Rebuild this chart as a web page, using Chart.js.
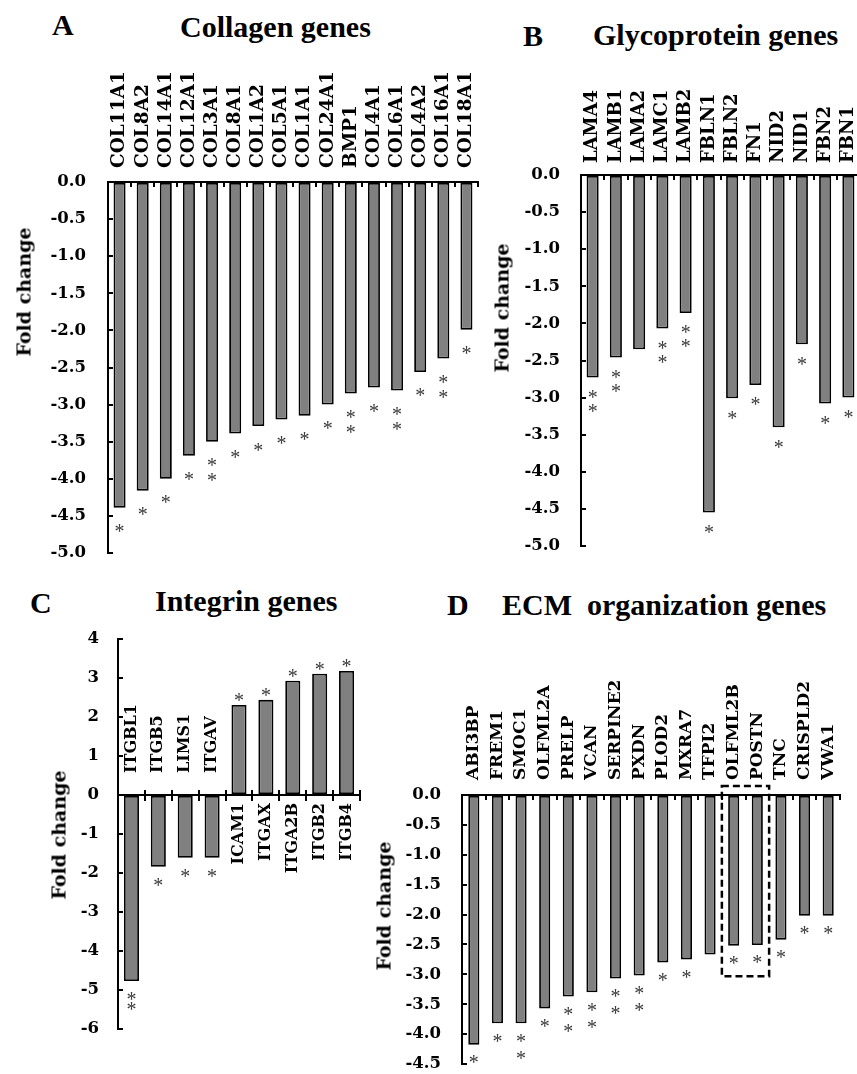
<!DOCTYPE html>
<html><head><meta charset="utf-8">
<script src="https://cdn.jsdelivr.net/npm/chart.js@4.4.1/dist/chart.umd.min.js"></script>
<style>
html,body{margin:0;padding:0;background:#fff;overflow:hidden;width:857px;height:1074px;}
.hd{position:absolute;font-family:'Liberation Serif','Times New Roman',serif;font-weight:bold;font-size:30px;line-height:30px;white-space:pre;color:#000;}
.yt{position:absolute;font-family:'DejaVu Serif',serif;font-weight:bold;font-size:19px;line-height:1;white-space:nowrap;transform:translate(-50%,-50%) rotate(-90deg);color:#000;}
.wrap{position:absolute;overflow:hidden;}
canvas{position:absolute;left:0;top:0;}
</style></head><body>

<div class="hd" style="left:52px;top:10px;">A</div>
<div class="hd" style="left:180px;top:12px;">Collagen genes</div>
<div class="hd" style="left:523px;top:21px;">B</div>
<div class="hd" style="left:593px;top:20px;">Glycoprotein genes</div>
<div class="hd" style="left:30px;top:588px;">C</div>
<div class="hd" style="left:155px;top:586px;">Integrin genes</div>
<div class="hd" style="left:447px;top:590px;">D</div>
<div class="hd" style="left:502px;top:590px;">ECM  organization genes</div>

<div class="wrap" style="left:0;top:50px;width:490px;height:520px;"><canvas id="cA" width="490" height="520"></canvas></div>
<div class="wrap" style="left:480px;top:50px;width:377px;height:520px;"><canvas id="cB" width="400" height="520"></canvas></div>
<div class="wrap" style="left:0;top:620px;width:380px;height:440px;"><canvas id="cC" width="380" height="440"></canvas></div>
<div class="wrap" style="left:370px;top:620px;width:487px;height:454px;"><canvas id="cD" width="487" height="454"></canvas></div>

<div class="yt" style="left:24px;top:292px;">Fold change</div>
<div class="yt" style="left:502px;top:308px;">Fold change</div>
<div class="yt" style="left:59px;top:835px;">Fold change</div>
<div class="yt" style="left:384px;top:906px;">Fold change</div>

<script>
// ---------- DATA ----------
const catA = ['COL11A1','COL8A2','COL14A1','COL12A1','COL3A1','COL8A1','COL1A2','COL5A1','COL1A1','COL24A1','BMP1','COL4A1','COL6A1','COL4A2','COL16A1','COL18A1'];
const valA = [-4.39,-4.16,-4.00,-3.69,-3.50,-3.39,-3.29,-3.20,-3.15,-3.00,-2.85,-2.77,-2.81,-2.56,-2.38,-1.99];
const sigA = ['*','*','*','*','**','*','*','*','*','*','**','*','**','*','**','*'];

const catB = ['LAMA4','LAMB1','LAMA2','LAMC1','LAMB2','FBLN1','FBLN2','FN1','NID2','NID1','FBN2','FBN1'];
const valB = [-2.73,-2.46,-2.35,-2.07,-1.86,-4.55,-3.01,-2.83,-3.40,-2.28,-3.08,-3.00];
const sigB = ['**','**','','**','**','*','*','*','*','*','*','*'];

const catC = ['ITGBL1','ITGB5','LIMS1','ITGAV','ICAM1','ITGAX','ITGA2B','ITGB2','ITGB4'];
const valC = [-4.77,-1.84,-1.61,-1.61,2.31,2.44,2.93,3.11,3.18];
const sigC = ['**','*','*','*','*','*','*','*','*'];

const catD = ['ABI3BP','FREM1','SMOC1','OLFML2A','PRELP','VCAN','SERPINE2','PXDN','PLOD2','MXRA7','TFPI2','OLFML2B','POSTN','TNC','CRISPLD2','VWA1'];
const valD = [-4.18,-3.82,-3.82,-3.57,-3.37,-3.30,-3.07,-3.02,-2.80,-2.75,-2.67,-2.52,-2.51,-2.42,-2.02,-2.02];
const sigD = ['*','*','**','*','**','**','**','**','*','*','','*','*','*','*','*'];

const yRangeA = [-5, 0], yStepA = 0.5;
const yRangeB = [-5, 0], yStepB = 0.5;
const yRangeC = [-6, 4], yStepC = 1;
const yRangeD = [-4.5, 0], yStepD = 0.5;
const boxedD = ['OLFML2B','POSTN'];
const boxRangeD = [-3.03, 0.15];

// ---------- STYLE HELPERS ----------
const tickFont = {family:'DejaVu Serif', weight:'bold', size:16.5, lineHeight:1};

function barSet(vals, pct){
  return {data: vals, backgroundColor:'#808080', borderColor:'#000', borderWidth:1.8,
          borderSkipped:false, categoryPercentage:1, barPercentage:pct};
}
function yAxis(range, step, width, pad, dec){
  return {min:range[0], max:range[1],
    ticks:{stepSize:step, padding:pad, color:'#000', font:tickFont, callback:v=>Number(v).toFixed(dec)},
    grid:{drawOnChartArea:false, drawTicks:true, tickLength:-5, color:'#000', lineWidth:2},
    border:{display:true, color:'#000', width:2},
    afterFit(s){ s.width = width; s.paddingTop = 6; s.paddingBottom = 6; }};
}
function xTop(height){
  return {position:'top', offset:true,
    grid:{offset:true, drawOnChartArea:false, drawTicks:true, tickLength:-5, color:'#000', lineWidth:2},
    border:{display:true, color:'#000', width:2},
    ticks:{display:false},
    afterFit(s){ s.height = height; s.paddingLeft = 0; s.paddingRight = 0; }};
}
function labelPlugin(cats, vals, negGap, posGap, size){
  return {id:'catLabels', afterDraw(chart){
    const ctx = chart.ctx, xs = chart.scales.x, ys = chart.scales.y;
    const y0 = ys.getPixelForValue(0);
    ctx.save();
    ctx.font = 'bold ' + size + 'px "DejaVu Serif"';
    ctx.fillStyle = '#000';
    ctx.textBaseline = 'middle';
    cats.forEach((lab, i) => {
      const neg = vals[i] < 0;
      ctx.save();
      ctx.translate(xs.getPixelForValue(i), neg ? y0 - negGap : y0 + posGap);
      ctx.rotate(-Math.PI/2);
      ctx.textAlign = neg ? 'left' : 'right';
      ctx.fillText(lab, 0, 0);
      ctx.restore();
    });
    ctx.restore();
  }};
}
function starPlugin(sig, first, gap, posFirst){
  return {id:'stars', afterDatasetsDraw(chart){
    const ctx = chart.ctx, meta = chart.getDatasetMeta(0), data = chart.data.datasets[0].data;
    const fs = 20;
    ctx.save();
    ctx.fillStyle = '#3a3a3a';
    ctx.font = fs + 'px "Liberation Serif"';
    ctx.textAlign = 'center';
    ctx.textBaseline = 'alphabetic';
    meta.data.forEach((bar, i) => {
      const n = sig[i].length, neg = data[i] < 0;
      for (let k = 0; k < n; k++){
        const cy = neg ? bar.y + first + k*gap : bar.y - posFirst - k*gap;
        ctx.fillText('*', bar.x, cy + 0.47*fs);
      }
    });
    ctx.restore();
  }};
}
const common = (padding) => ({responsive:false, animation:false,
  layout:{padding}, plugins:{legend:{display:false}, tooltip:{enabled:false}, title:{display:false}}});

// ---------- A ----------
new Chart(document.getElementById('cA'), {
  type:'bar',
  data:{labels:catA, datasets:[barSet(valA, 0.52)]},
  options:Object.assign(common({left:0, top:0, right:12, bottom:17}), {
    scales:{x:xTop(132), y:yAxis(yRangeA, yStepA, 108, 27, 1)}}),
  plugins:[starPlugin(sigA, 21, 15, 7), labelPlugin(catA, valA, 14, 8, 18.5)]
});

// ---------- B ----------
new Chart(document.getElementById('cB'), {
  type:'bar',
  data:{labels:catB, datasets:[barSet(valB, 0.52)]},
  options:Object.assign(common({left:0, top:0, right:20, bottom:24}), {
    scales:{x:xTop(125), y:yAxis(yRangeB, yStepB, 101, 26, 1)}}),
  plugins:[starPlugin(sigB, 17, 14, 7), labelPlugin(catB, valB, 12, 8, 18)]
});

// ---------- C ----------
new Chart(document.getElementById('cC'), {
  type:'bar',
  data:{labels:catC, datasets:[barSet(valC, 0.56)]},
  options:Object.assign(common({left:0, top:19, right:20, bottom:31}), {
    scales:{
      x:{type:'category', position:{y:0}, offset:true,
         grid:{offset:true, drawOnChartArea:false, drawTicks:true, tickLength:5, color:'#000', lineWidth:2},
         border:{display:true, color:'#000', width:2}, ticks:{display:false},
         afterFit(s){ s.paddingLeft = 0; s.paddingRight = 0; }},
      x2:{type:'category', labels:catC, position:{y:0}, offset:true,
         grid:{offset:true, drawOnChartArea:false, drawTicks:true, tickLength:-5, color:'#000', lineWidth:2},
         border:{display:false}, ticks:{display:false},
         afterFit(s){ s.paddingLeft = 0; s.paddingRight = 0; }},
      y:yAxis(yRangeC, yStepC, 118, 24, 0)
    }}),
  plugins:[starPlugin(sigC, 16, 10, 7), labelPlugin(catC, valC, 22, 8, 16)]
});

// ---------- D ----------
const boxPlugin = {id:'boxD', afterDraw(chart){
  const ctx = chart.ctx, xs = chart.scales.x, ys = chart.scales.y;
  const i0 = catD.indexOf(boxedD[0]), i1 = catD.indexOf(boxedD[1]);
  const half = (xs.getPixelForValue(1) - xs.getPixelForValue(0)) / 2;
  const x1 = xs.getPixelForValue(i0) - half, x2 = xs.getPixelForValue(i1) + half;
  const yTop = ys.getPixelForValue(boxRangeD[1]), yBot = ys.getPixelForValue(boxRangeD[0]);
  ctx.save();
  ctx.strokeStyle = '#000';
  ctx.lineWidth = 2.5;
  ctx.setLineDash([7, 4]);
  ctx.strokeRect(x1, yTop, x2 - x1, yBot - yTop);
  ctx.restore();
}};
new Chart(document.getElementById('cD'), {
  type:'bar',
  data:{labels:catD, datasets:[barSet(valD, 0.47)]},
  options:Object.assign(common({left:0, top:0, right:17, bottom:10}), {
    scales:{x:xTop(175), y:yAxis(yRangeD, yStepD, 92, 26, 1)}}),
  plugins:[starPlugin(sigD, 15, 17, 7), labelPlugin(catD, valD, 15, 8, 17), boxPlugin]
});
</script>
</body></html>
